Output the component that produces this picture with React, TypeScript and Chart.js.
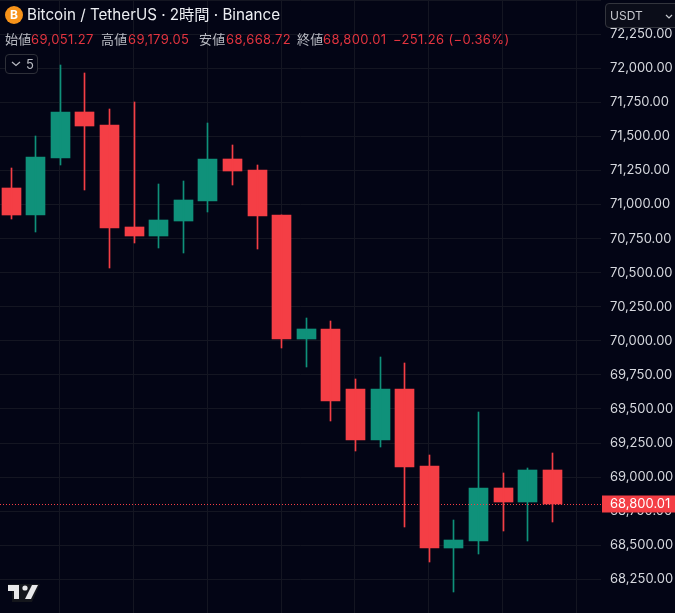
import { useEffect, useRef } from 'react';
import { Chart, registerables } from 'chart.js';

Chart.register(...registerables);

// one entry per 2h candle
const opens = [71122, 70923, 71342, 71679, 71584, 70835, 70769, 70879, 71026, 71334, 71254, 70923, 70013, 70087, 69647, 69272, 69647, 69082, 68480, 68531, 68920, 68817, 69051.27];
const closes = [70923, 71349, 71679, 71577, 70828, 70769, 70887, 71034, 71334, 71246, 70916, 70013, 70087, 69559, 69272, 69647, 69074, 68480, 68538, 68920, 68817, 69051, 68800.01];
const highs = [71268, 71503, 72024, 71966, 71701, 71753, 71151, 71173, 71599, 71437, 71290, 70923, 70168, 70146, 69720, 69881, 69837, 69162, 68685, 69478, 69030, 69067, 69179.05];
const lows = [70894, 70799, 71290, 71107, 70535, 70718, 70681, 70645, 70945, 71144, 70674, 69947, 69808, 69412, 69192, 69221, 68634, 68377, 68157, 68436, 68605, 68531, 68668.72];

const priceTicks = [68250, 68500, 68750, 69000, 69250, 69500, 69750, 70000, 70250, 70500, 70750, 71000, 71250, 71500, 71750, 72000, 72250, 72500];
const timeGridCandles = [2, 5, 8, 11, 14, 17, 20, 23];
const lastPrice = 68800.01;

const RED = '#f43e45';
const GREEN = '#0f917a';
const BG = '#030515';
const GRID = '#141622';
const AXIS_WIDTH = 74;

const fmt = (v: number) =>
  v.toLocaleString('en-US', { minimumFractionDigits: 2, maximumFractionDigits: 2 });

const legend = [
  { text: '始値', left: 5, color: '#b8bac2' },
  { text: fmt(opens[22]), left: 31, color: '#e2343f' },
  { text: '高値', left: 101, color: '#b8bac2' },
  { text: fmt(highs[22]), left: 128, color: '#e2343f' },
  { text: '安値', left: 199, color: '#b8bac2' },
  { text: fmt(lows[22]), left: 226, color: '#e2343f' },
  { text: '終値', left: 297, color: '#b8bac2' },
  { text: fmt(closes[22]), left: 323, color: '#e2343f' },
  { text: '−251.26 (−0.36%)', left: 393, color: '#e2343f' },
];

// keep candles on whole pixels so they stay crisp
const snapPlugin = {
  id: 'snapCandles',
  afterDatasetsUpdate(chart: any) {
    chart.data.datasets.forEach((_: any, i: number) => {
      chart.getDatasetMeta(i).data.forEach((el: any) => {
        el.x = Math.floor(el.x) + 0.5;
        el.y = Math.round(el.y);
        el.base = Math.round(el.base);
      });
    });
  },
};

// dotted last price line and its tag on the axis
const priceLinePlugin = {
  id: 'priceLine',
  afterDraw(chart: any) {
    const { ctx, chartArea, width } = chart;
    const y = Math.round(chart.scales.y.getPixelForValue(lastPrice)) + 0.5;
    ctx.save();
    ctx.strokeStyle = RED;
    ctx.lineWidth = 1;
    ctx.setLineDash([1, 2]);
    ctx.beginPath();
    ctx.moveTo(chartArea.left, y);
    ctx.lineTo(chartArea.right, y);
    ctx.stroke();
    ctx.setLineDash([]);
    ctx.fillStyle = RED;
    ctx.fillRect(chartArea.right + 1, y - 9, width - chartArea.right - 1, 17);
    ctx.fillStyle = '#ffffff';
    ctx.font = '13px Inter, sans-serif';
    ctx.textBaseline = 'middle';
    ctx.fillText(fmt(lastPrice), chartArea.right + 9, y);
    ctx.restore();
  },
};

export default function App() {
  const canvasRef = useRef<HTMLCanvasElement>(null);

  useEffect(() => {
    document.body.style.margin = '0';
    if (!canvasRef.current) return;
    const index = opens.map((_, i) => i);
    const colors = opens.map((o, i) => (closes[i] >= o ? GREEN : RED));

    const chart = new Chart(canvasRef.current, {
      type: 'bar',
      data: {
        datasets: [
          {
            label: 'wick',
            data: index.map((i) => ({ x: i, y: [lows[i], highs[i]] })) as any,
            backgroundColor: colors,
            barThickness: 1,
            grouped: false,
          },
          {
            label: 'body',
            data: index.map((i) => ({ x: i, y: [opens[i], closes[i]] })) as any,
            backgroundColor: colors,
            barThickness: 19,
            grouped: false,
          },
        ],
      },
      options: {
        animation: false,
        responsive: false,
        maintainAspectRatio: false,
        layout: { padding: 0 },
        plugins: { legend: { display: false }, tooltip: { enabled: false } },
        scales: {
          x: {
            type: 'linear',
            min: -0.4559,
            max: 23.9849,
            offset: false,
            border: { display: false },
            grid: { color: GRID, drawTicks: false, offset: false },
            ticks: { display: false },
            afterBuildTicks: (scale: any) => {
              // small nudge so the grid rounds to the same pixel as the wicks
              scale.ticks = timeGridCandles.map((value) => ({ value: value - 0.02 }));
            },
            afterFit: (scale: any) => {
              scale.height = 0;
            },
          },
          y: {
            position: 'right',
            min: 68003,
            max: 72501,
            border: { display: false },
            grid: { color: GRID, drawTicks: false },
            ticks: {
              color: '#d6d8de',
              font: { family: 'Inter, sans-serif', size: 13 },
              padding: 9,
              // top line sits on the canvas edge, it has no readable label
              callback: (v: any) => (Number(v) >= 72500 ? '' : fmt(Number(v))),
            },
            afterBuildTicks: (scale: any) => {
              scale.ticks = priceTicks.map((value) => ({ value }));
            },
            afterFit: (scale: any) => {
              scale.width = AXIS_WIDTH;
              scale.paddingTop = 0;
              scale.paddingBottom = 0;
            },
          },
        },
      },
      plugins: [snapPlugin, priceLinePlugin],
    });

    return () => chart.destroy();
  }, []);

  return (
    <div style={{ position: 'relative', width: 675, height: 613, overflow: 'hidden', background: BG, fontFamily: 'Inter, "Noto Sans CJK JP", sans-serif' }}>
      <canvas ref={canvasRef} width={675} height={613} style={{ display: 'block' }} />

      <div style={{ position: 'absolute', left: 5, top: 6, width: 18, height: 18, borderRadius: 9, background: '#f7931a', color: '#fff', fontSize: 12, fontWeight: 700, lineHeight: '18px', textAlign: 'center' }}>B</div>
      <div style={{ position: 'absolute', left: 27, top: 5, fontSize: 15.2, lineHeight: '20px', color: '#eceef2', whiteSpace: 'nowrap' }}>
        Bitcoin / TetherUS · 2時間 · Binance
      </div>

      {legend.map((item) => (
        <span key={item.left} style={{ position: 'absolute', left: item.left, top: 31, fontSize: 13, letterSpacing: 0.35, lineHeight: '16px', color: item.color, whiteSpace: 'nowrap' }}>
          {item.text}
        </span>
      ))}

      <div style={{ position: 'absolute', left: 5, top: 54, width: 31, height: 18, border: '1px solid #2e3039', borderRadius: 4, color: '#b8bac2', fontSize: 13, lineHeight: '18px', background: BG }}>
        <svg width="10" height="6" style={{ position: 'absolute', left: 5, top: 6 }}>
          <path d="M1 1 L5 4.5 L9 1" stroke="#b8bac2" strokeWidth="1.2" fill="none" />
        </svg>
        <span style={{ position: 'absolute', left: 20 }}>5</span>
      </div>

      <div style={{ position: 'absolute', left: 605, top: 3, width: 72, height: 23, border: '1px solid #33353d', borderRadius: 4, background: '#0b0d19', color: '#c6c8ce', fontSize: 12, lineHeight: '23px' }}>
        <span style={{ position: 'absolute', left: 4 }}>USDT</span>
        <svg width="8" height="6" style={{ position: 'absolute', left: 59, top: 10 }}>
          <path d="M1 1 L4 4 L7 1" stroke="#c6c8ce" strokeWidth="1.2" fill="none" />
        </svg>
      </div>

      <svg width="36" height="22" style={{ position: 'absolute', left: 5, top: 582 }}>
        <path d="M3 2 H35 L27 20 H7 V9 H3 Z" fill="#14161c" />
        <path d="M3 3 H14 V17 H9 V9 H3 Z" fill="#e8e8ea" />
        <circle cx="20" cy="6" r="2.6" fill="#e8e8ea" />
        <path d="M27 3 H33 L26 17 H20 Z" fill="#e8e8ea" />
      </svg>
    </div>
  );
}
